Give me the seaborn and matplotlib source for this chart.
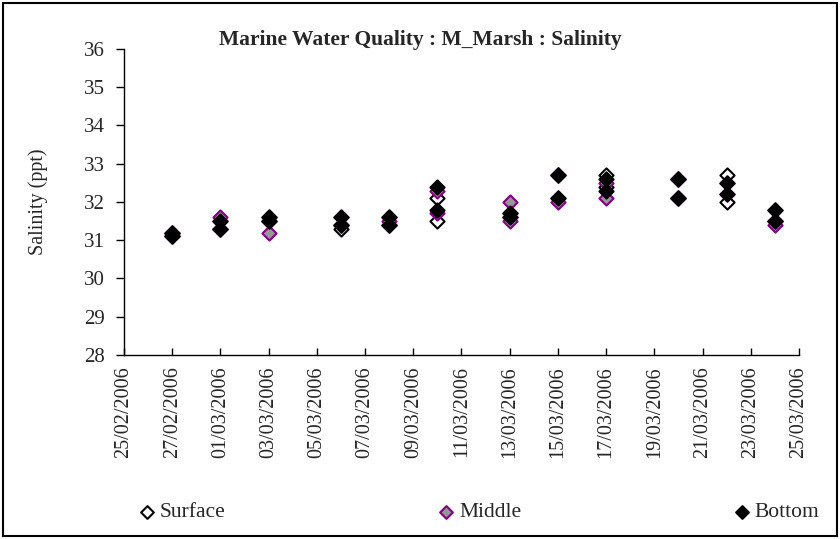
import numpy as np
import pandas as pd
import matplotlib
matplotlib.use("Agg")
import matplotlib.pyplot as plt
import matplotlib.dates as mdates
from matplotlib.patches import Rectangle
import seaborn as sns

# sampling dates, two samples per date for each depth
dates = ["2006-02-27", "2006-03-01", "2006-03-03", "2006-03-06", "2006-03-08", "2006-03-10",
         "2006-03-13", "2006-03-15", "2006-03-17", "2006-03-20", "2006-03-22", "2006-03-24"]
surface_1 = [31.2, 31.5, 31.5, 31.3, 31.6, 32.1, 31.6, 32.7, 32.7, 32.6, 32.7, 31.8]
surface_2 = [31.1, 31.3, 31.6, 31.4, 31.4, 31.5, 31.7, 32.1, 32.4, 32.1, 32.0, 31.5]
middle_1 = [31.2, 31.6, 31.2, 31.6, 31.5, 32.3, 32.0, 32.0, 32.5, 32.6, 32.5, 31.4]
middle_2 = [31.1, 31.3, 31.5, 31.4, 31.4, 31.7, 31.5, 32.7, 32.1, 32.1, 32.2, 31.5]
bottom_1 = [31.2, 31.5, 31.6, 31.6, 31.6, 32.4, 31.7, 32.7, 32.6, 32.6, 32.5, 31.8]
bottom_2 = [31.1, 31.3, 31.5, 31.4, 31.4, 31.8, 31.6, 32.1, 32.3, 32.1, 32.2, 31.5]

title = "Marine Water Quality : M_Marsh : Salinity"
y_label = "Salinity (ppt)"
y_ticks = [28, 29, 30, 31, 32, 33, 34, 35, 36]


def make_df(v1, v2):
    d = pd.to_datetime(dates)
    return pd.DataFrame({"date": list(d) + list(d), "value": v1 + v2})


sns.set_style("white")
plt.rcParams["font.family"] = ["Liberation Serif", "DejaVu Serif"]

fig = plt.figure(figsize=(8.4, 5.39), dpi=100)
ax = fig.add_axes([0.1476, 0.3414, 0.8036, 0.5677])

sns.scatterplot(data=make_df(surface_1, surface_2), x="date", y="value", ax=ax, marker="D", s=52,
                color="white", edgecolor="black", linewidth=1.5, label="Surface", zorder=3)
sns.scatterplot(data=make_df(middle_1, middle_2), x="date", y="value", ax=ax, marker="D", s=52,
                color="#969696", edgecolor="#800080", linewidth=1.5, label="Middle", zorder=4)
sns.scatterplot(data=make_df(bottom_1, bottom_2), x="date", y="value", ax=ax, marker="D", s=52,
                color="black", edgecolor="black", linewidth=1.5, label="Bottom", zorder=5)

ax.set_xlim(pd.Timestamp("2006-02-25"), pd.Timestamp("2006-03-25"))
ax.set_ylim(28, 36)
ax.set_yticks(y_ticks)
ax.set_xticks(pd.date_range("2006-02-25", "2006-03-25", freq="2D"))
ax.xaxis.set_major_formatter(mdates.DateFormatter("%d/%m/%Y"))
ax.tick_params(axis="x", direction="in", length=5, width=1, color="black",
               labelsize=14.5, rotation=90, pad=8, bottom=True)
ax.tick_params(axis="y", direction="out", length=6, width=1, color="black",
               labelsize=15, pad=8, left=True)
ax.set_xlabel("")
ax.set_ylabel(y_label, fontsize=14.5)
ax.yaxis.set_label_coords(-0.113, 0.5)

for side in ["top", "right"]:
    ax.spines[side].set_visible(False)
for side in ["left", "bottom"]:
    ax.spines[side].set_color("black")
    ax.spines[side].set_linewidth(1)

fig.text(0.5, 0.926, title, ha="center", va="center", fontsize=15.5, fontweight="bold")

ax.get_legend().remove()
handles, labels = ax.get_legend_handles_labels()
fig.legend(handles, labels, loc="lower left", ncol=3, mode="expand",
           bbox_to_anchor=(0.152, 0.015, 0.834, 0.07), frameon=False, fontsize=15.5,
           handletextpad=0.1, handlelength=1.0, markerscale=0.9, borderaxespad=0)

fig.add_artist(Rectangle((0.004, 0.005), 0.992, 0.99, transform=fig.transFigure,
                         fill=False, edgecolor="black", linewidth=1.5))

fig.savefig("out.png", dpi=100, facecolor="white")
